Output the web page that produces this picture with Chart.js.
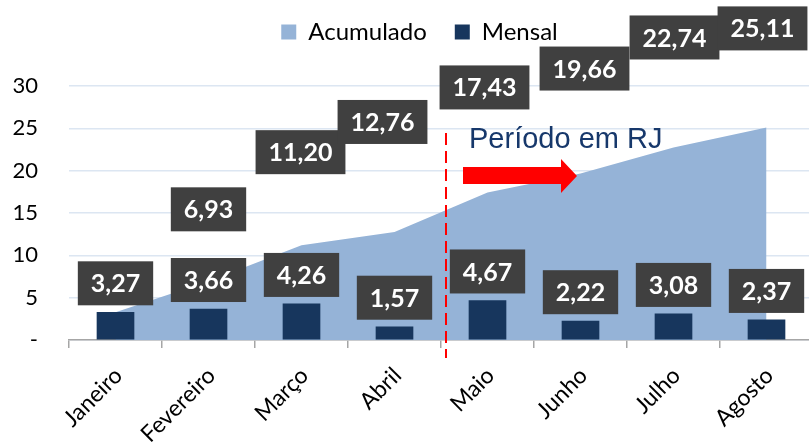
<!DOCTYPE html>
<html>
<head>
<meta charset="utf-8">
<script src="https://cdn.jsdelivr.net/npm/chart.js@4.4.1/dist/chart.umd.min.js"></script>
<style>
html, body { margin: 0; padding: 0; overflow: hidden; background: #fff; }
</style>
</head>
<body>
<canvas id="grafico" width="820" height="443"></canvas>
<script>
// dados
var meses = ['Janeiro', 'Fevereiro', 'Março', 'Abril', 'Maio', 'Junho', 'Julho', 'Agosto']
var mensal = [3.27, 3.66, 4.26, 1.57, 4.67, 2.22, 3.08, 2.37]
var acumulado = [3.27, 6.93, 11.20, 12.76, 17.43, 19.66, 22.74, 25.11]
var yTicks = [0, 5, 10, 15, 20, 25, 30]

function fmt(v){
	return v.toFixed(2).replace('.', ',')
}

function caixa(ctx, txt, cx, bottom){
	var w = ctx.measureText(txt).width + 26
	var h = 44
	ctx.fillStyle = '#404040'
	ctx.fillRect(cx - w / 2, bottom - h, w, h)
	ctx.fillStyle = '#ffffff'
	ctx.fillText(txt, cx, bottom - h / 2 + 1)
}

// rotulos em caixa cinza
const caixas = {
	id: 'caixas',
	afterDatasetsDraw(chart, args, opts){
		var ctx = chart.ctx
		ctx.save()
		ctx.font = 'bold 25px Lato'
		ctx.textAlign = 'center'
		ctx.textBaseline = 'middle'
		chart.getDatasetMeta(1).data.forEach(function(bar, i){
			caixa(ctx, fmt(mensal[i]), bar.x, bar.y - opts.gapBarra)
		})
		chart.getDatasetMeta(0).data.forEach(function(pt, i){
			var d = opts.desloc[i]
			if(!d) return
			caixa(ctx, fmt(acumulado[i]), pt.x + d[0], pt.y - d[1])
		})
		ctx.restore()
	}
}

// linha tracejada + "Período em RJ" + seta
const periodo = {
	id: 'periodo',
	afterDatasetsDraw(chart){
		var x = chart.scales.x, ctx = chart.ctx
		var lx = (x.getPixelForValue(3) + x.getPixelForValue(4)) / 2 + 5
		var top = chart.chartArea.top
		ctx.save()
		ctx.strokeStyle = '#ff0000'
		ctx.lineWidth = 2
		ctx.setLineDash([12, 6])
		ctx.beginPath()
		ctx.moveTo(lx, top + 47)
		ctx.lineTo(lx, chart.chartArea.bottom + 18)
		ctx.stroke()
		ctx.setLineDash([])

		ctx.font = '29px "Liberation Sans"'
		ctx.fillStyle = '#17386b'
		ctx.textAlign = 'left'
		ctx.textBaseline = 'alphabetic'
		ctx.fillText('Período em RJ', lx + 23, top + 62)

		ctx.fillStyle = '#ff0000'
		ctx.beginPath()
		ctx.moveTo(lx + 17, top + 81)
		ctx.lineTo(lx + 115, top + 81)
		ctx.lineTo(lx + 115, top + 73)
		ctx.lineTo(lx + 131, top + 90)
		ctx.lineTo(lx + 115, top + 107)
		ctx.lineTo(lx + 115, top + 98)
		ctx.lineTo(lx + 17, top + 98)
		ctx.closePath()
		ctx.fill()
		ctx.restore()
	}
}

// espaco entre legenda e grafico, legenda um pouco a direita
const legendaGap = {
	id: 'legendaGap',
	beforeInit(chart){
		var fit = chart.legend.fit
		chart.legend.fit = function(){
			fit.bind(chart.legend)()
			this.height += 24
		}
	},
	afterLayout(chart){
		chart.legend.left += 13
		chart.legend.right += 13
		chart.legend.top -= 8
		chart.legend.bottom -= 8
	}
}

const ctxG = document.getElementById('grafico').getContext('2d')
const grafico = new Chart(ctxG, {
	type: 'bar',
	data: {
		labels: meses,
		datasets: [{
			type: 'line',
			label: 'Acumulado',
			data: acumulado,
			backgroundColor: '#95b3d7',
			borderColor: '#95b3d7',
			borderWidth: 0,
			pointRadius: 0,
			fill: 'origin',
			tension: 0,
			order: 2
		}, {
			label: 'Mensal',
			data: mensal,
			backgroundColor: '#17365d',
			borderWidth: 0,
			barThickness: 37,
			order: 1
		}]
	},
	options: {
		responsive: false,
		animation: false,
		devicePixelRatio: 1,
		layout: {
			padding: { left: 0, right: 7, top: 0, bottom: 0 }
		},
		scales: {
			x: {
				grid: {
					offset: true,
					drawOnChartArea: false,
					color: '#a6a6a6',
					tickLength: 8,
					lineWidth: 1.5
				},
				border: { color: '#a6a6a6', width: 1.5 },
				ticks: {
					color: '#000',
					font: { family: 'Lato', size: 23 },
					minRotation: 45,
					maxRotation: 45,
					padding: 14,
					labelOffset: 3
				},
				afterFit: function(s){ s.height = 103 }
			},
			y: {
				min: 0,
				max: 30,
				afterBuildTicks: function(s){
					s.ticks = yTicks.map(function(v){ return { value: v } })
				},
				grid: { color: '#dce6f2', drawTicks: false, lineWidth: 1.5 },
				border: { display: false },
				ticks: {
					color: '#000',
					font: { family: 'Lato', size: 22 },
					padding: 31,
					callback: function(v){ return v === 0 ? '-' : v }
				},
				afterFit: function(s){ s.width = 69 }
			}
		},
		plugins: {
			legend: {
				position: 'top',
				labels: {
					color: '#000',
					font: { family: 'Lato', size: 24 },
					boxWidth: 15,
					boxHeight: 15,
					padding: 28,
					sort: function(a, b){ return a.datasetIndex - b.datasetIndex }
				}
			},
			tooltip: { enabled: false },
			caixas: {
				gapBarra: 7,
				desloc: [null, [0, 50], [-1, 71], [-12, 88], [-3, 83], [4, 83], [1, 88], [-4, 77]]
			}
		}
	},
	plugins: [legendaGap, periodo, caixas]
})
</script>
</body>
</html>
